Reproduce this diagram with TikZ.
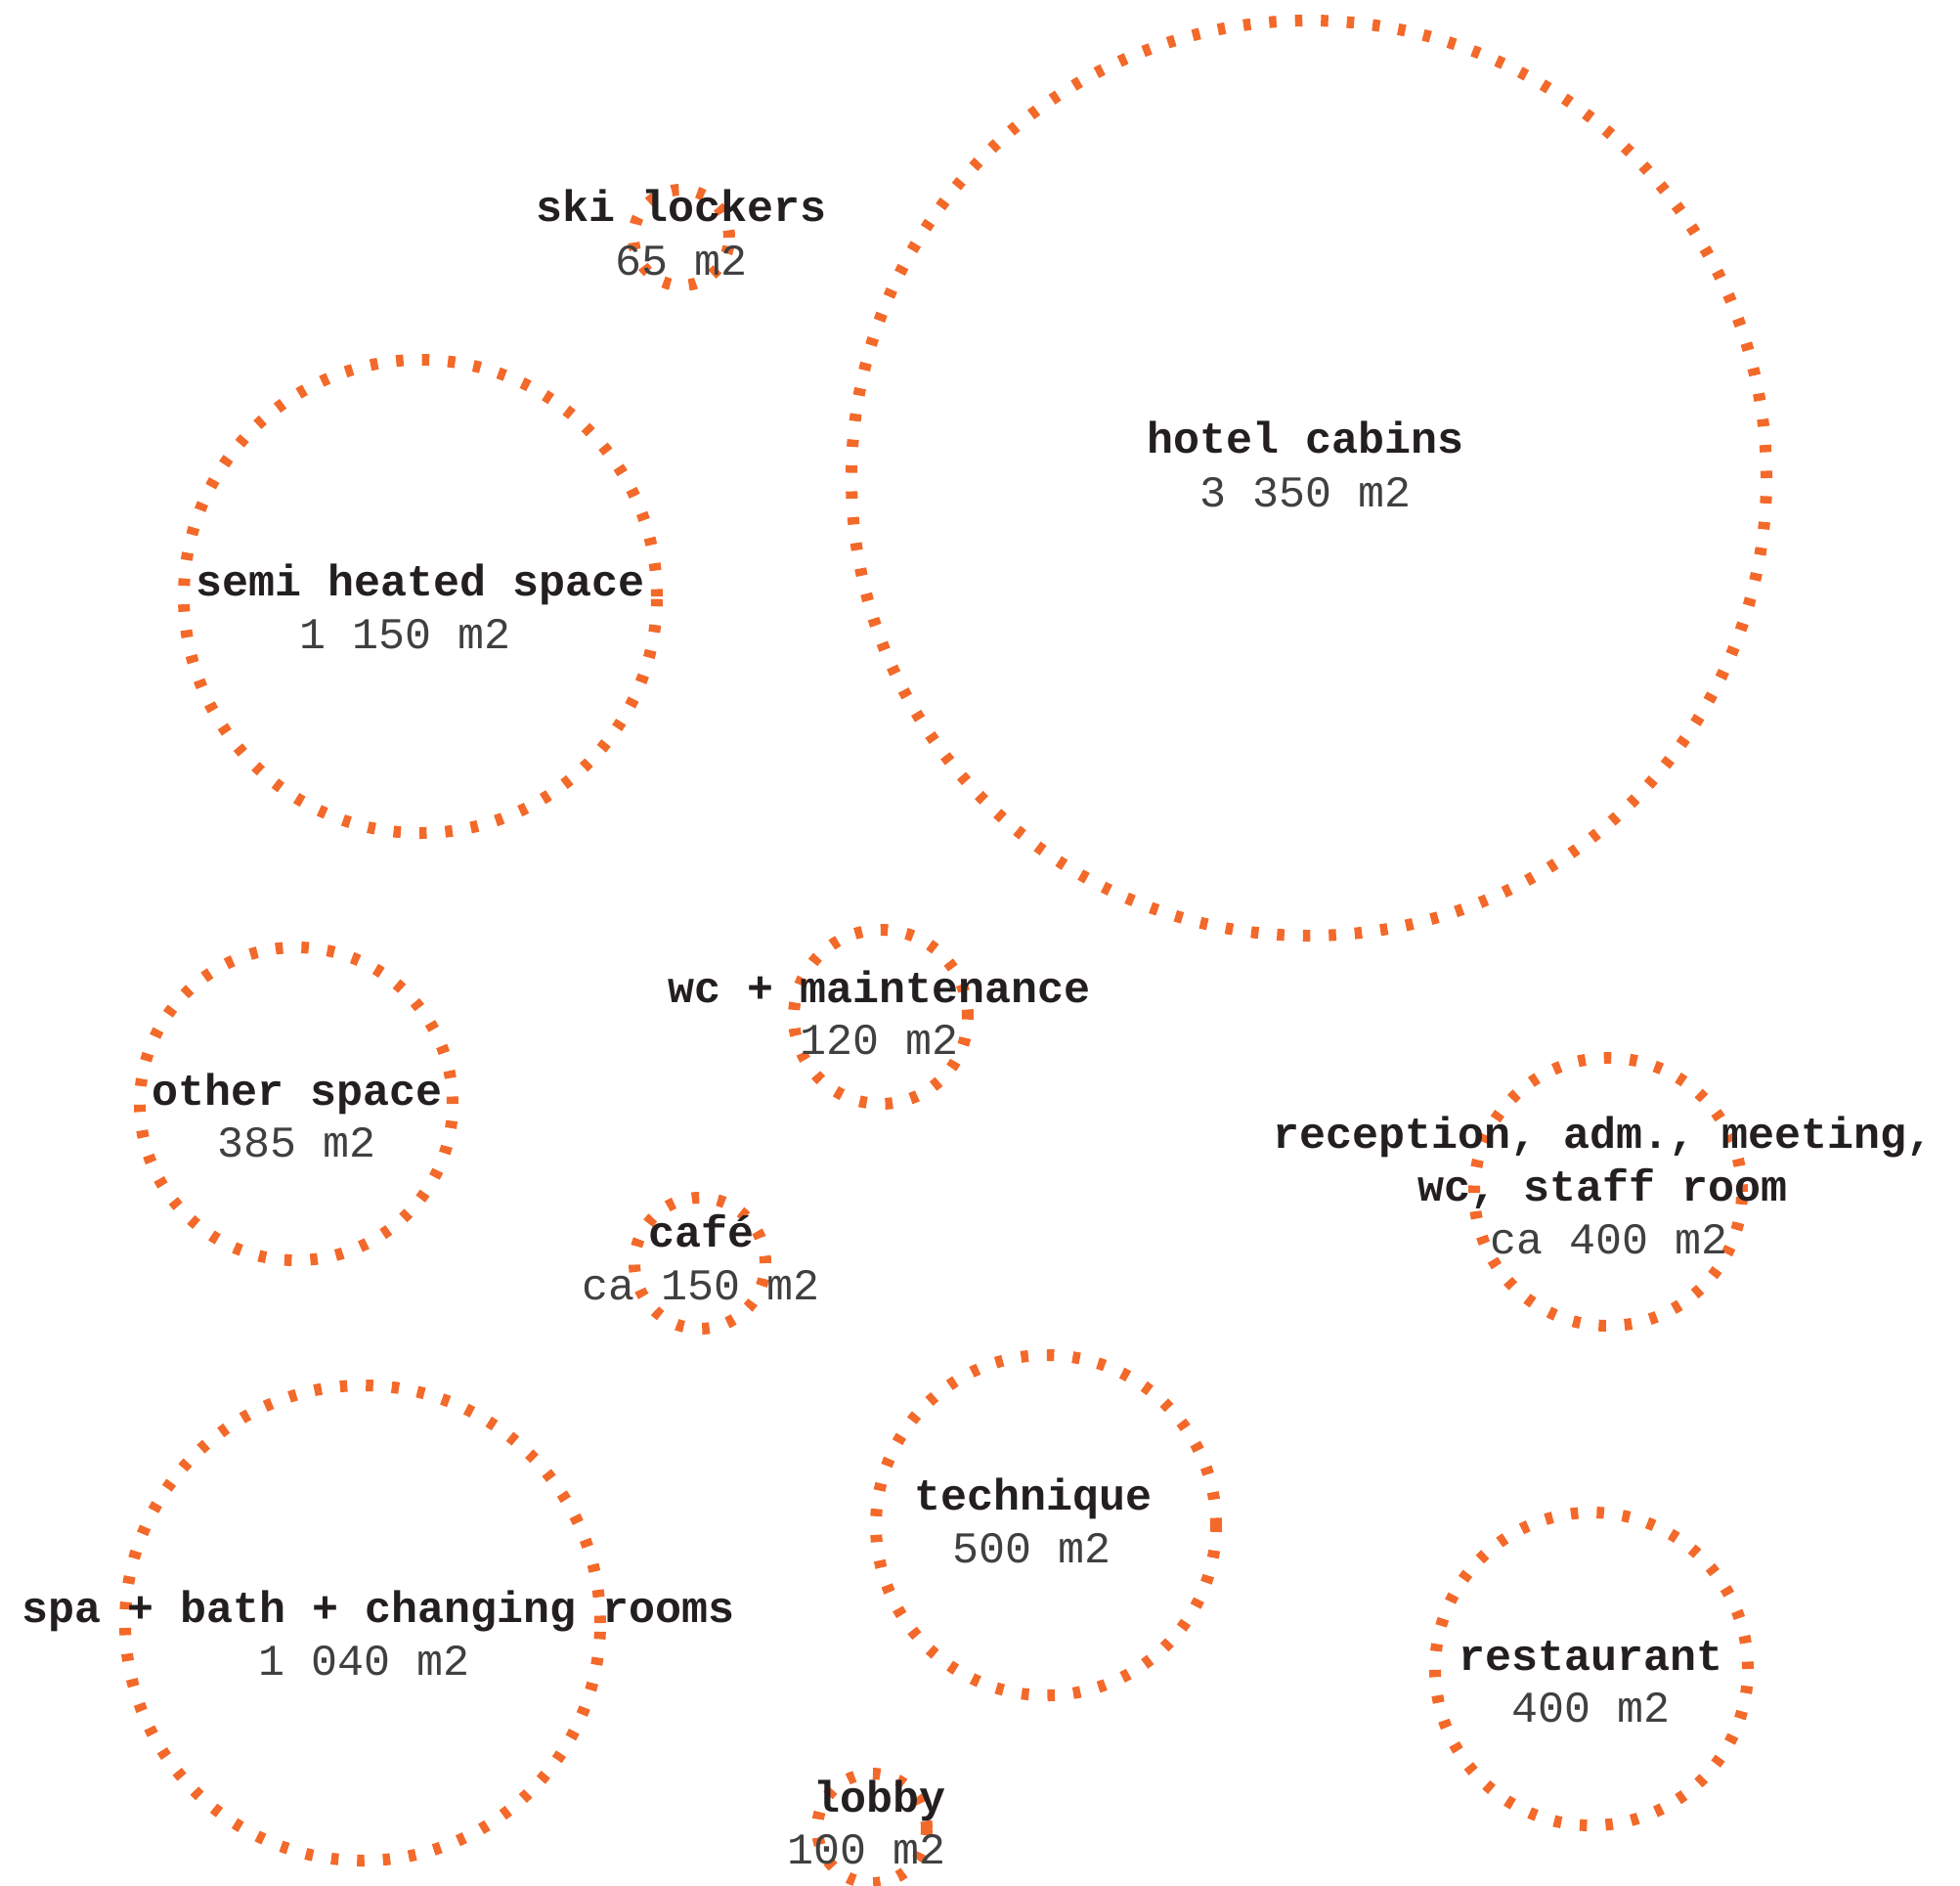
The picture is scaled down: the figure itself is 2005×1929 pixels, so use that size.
\documentclass[tikz,border=0pt]{standalone}
\usepackage{fontspec}
\setmonofont{Liberation Mono}
\definecolor{dotorange}{HTML}{F3692A}
\definecolor{titlegray}{HTML}{231F20}
\definecolor{areagray}{HTML}{404040}
\begin{document}
\begin{tikzpicture}[x=1pt,y=-1pt,
  zone/.style={circle, draw=dotorange, line width=12pt, dash pattern=on 7.5pt off 19pt, inner sep=0pt, outer sep=0pt, minimum size=#1},
  title/.style={font=\ttfamily\bfseries\fontsize{45}{54}\selectfont, text=titlegray, align=center, inner sep=0pt, anchor=base},
  area/.style={font=\ttfamily\fontsize{45}{54}\selectfont, text=areagray, inner sep=0pt, anchor=base}]
\useasboundingbox (0,0) rectangle (2005,1929);
% circles
\node[zone=936pt] (hotelC) at (1339,489) {};
\node[zone=98pt] (skiC) at (697,243) {};
\node[zone=484pt] (semiC) at (430,610) {};
\node[zone=320pt] (otherC) at (303,1129) {};
\node[zone=178pt] (wcC) at (901,1040) {};
\node[zone=134pt] (cafeC) at (716,1292) {};
\node[zone=274pt] (recC) at (1645,1219) {};
\node[zone=348pt] (techC) at (1070,1560) {};
\node[zone=486pt] (spaC) at (371,1660) {};
\node[zone=320pt] (restC) at (1628,1707) {};
\node[zone=112pt] (lobbyC) at (892,1870) {};
% labels
\node[title] (hotelT) at (1336,463) {hotel cabins};
\node[area] (hotelA) at (1336,518) {3 350 m2};
\node[title] (skiT) at (697,227) {ski lockers};
\node[area] (skiA) at (697,281) {65 m2};
\node[title] (semiT) at (430,609) {semi heated space};
\node[area] (semiA) at (415,663) {1 150 m2};
\node[title] (wcT) at (900,1025) {wc + maintenance};
\node[area] (wcA) at (900,1078) {120 m2};
\node[title] (otherT) at (304,1130) {other space};
\node[area] (otherA) at (304,1183) {385 m2};
\node[title] (cafeT) at (718,1275) {café};
\node[area] (cafeA) at (717,1329) {ca 150 m2};
\node[title] (recT) at (1640,1228) {reception, adm., meeting,\\wc, staff room};
\node[area] (recA) at (1646,1282) {ca 400 m2};
\node[title] (techT) at (1057,1544) {technique};
\node[area] (techA) at (1056,1598) {500 m2};
\node[title] (spaT) at (387,1659) {spa + bath + changing rooms};
\node[area] (spaA) at (373,1713) {1 040 m2};
\node[title] (restT) at (1628,1708) {restaurant};
\node[area] (restA) at (1627,1761) {400 m2};
\node[title] (lobbyT) at (900,1853) {lobby};
\node[area] (lobbyA) at (887,1906) {100 m2};
\end{tikzpicture}
\end{document}
